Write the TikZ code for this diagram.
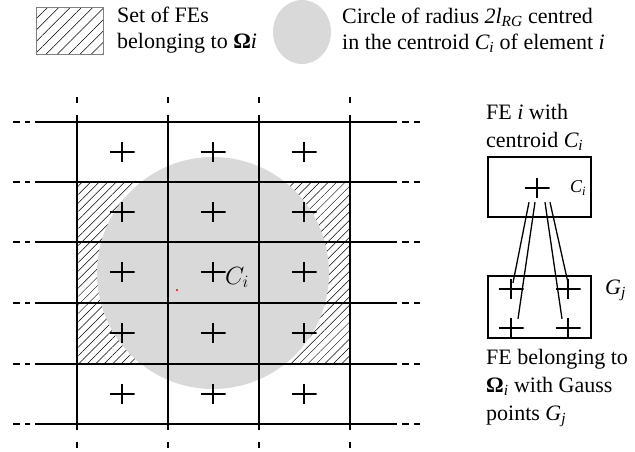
\documentclass[tikz,border=0pt]{standalone}
\usepackage{fontspec}
\setmainfont{Liberation Serif}
\usepackage{tikz}
\usetikzlibrary{patterns.meta,positioning}
\definecolor{discgray}{HTML}{D9D9D9}
\tikzset{
  gridline/.style={line width=1.4pt},
  hatch/.style={pattern={Lines[angle=45,distance=6pt,line width=0.5pt]}},
  gauss/.style={minimum width=25pt, minimum height=20pt, inner sep=0pt,
    path picture={\draw[line width=1.6pt]
      (path picture bounding box.north) -- (path picture bounding box.south)
      (path picture bounding box.west) -- (path picture bounding box.east);}},
  legend/.style={font=\fontsize{22}{26}\selectfont, align=left, inner sep=0pt, anchor=west},
  note/.style={font=\fontsize{22}{28}\selectfont, align=left, inner sep=0pt, anchor=west},
  febox/.style={draw, line width=1.5pt, minimum width=103pt, inner sep=0pt},
  link/.style={line width=1.3pt},
}

\begin{document}
\begin{tikzpicture}[x=1pt,y=-1pt]
\useasboundingbox (0,0) rectangle (635,451);

% legend
\draw[gray, line width=0.6pt, pattern={Lines[angle=45,distance=8pt,line width=0.5pt]}] (36,7) rectangle (103,54);
\node[legend] (setlbl) at (117,30) {Set of FEs\\belonging to \textbf{Ω}\textit{i}};
\fill[discgray] (302,32) ellipse (29 and 32);
\node[legend] (circlbl) at (342,30) {Circle of radius \textit{2l\textsubscript{RG}} centred\\in the centroid \textit{C\textsubscript{i}} of element \textit{i}};

% hatched set and circle of radius 2l_RG
\fill[hatch] (77,182) rectangle (350,364);
\fill[discgray] (213,273) circle (116);
\fill[red] (177,290) circle (1.2);

% mesh
\foreach \y in {122,182,242,303,364,424}
  \draw[gridline] (13,\y) -- (20,\y) (25,\y) -- (30,\y) (35,\y) -- (397,\y)
    (402,\y) -- (409,\y) (414,\y) -- (420,\y);
\foreach \x in {77,168,259,350}
  \draw[gridline] (\x,97) -- (\x,103) (\x,115) -- (\x,430) (\x,442) -- (\x,448);

\foreach \c/\x in {1/122,2/213,3/304}
  \foreach \r/\y in {1/152,2/212,3/272,4/333,5/394}
    \node[gauss] (p\c\r) at (\x,\y) {};
\node[anchor=base west, inner sep=0pt, font=\fontsize{26}{26}\selectfont] (cilbl) at (225,284) {$C_i$};

% FE i and FE of Omega_i
\node[note] (feilbl) at (486,127) {FE \textit{i} with\\centroid \textit{C\textsubscript{i}}};
\node[febox, minimum height=60pt] (fei) at (539.5,187) {};
\node[gauss] (ci) at (537,188) {};
\node[anchor=west, inner sep=0pt, font=\fontsize{18}{18}\selectfont] (cisub) at (570,188) {\textit{C\textsubscript{i}}};

\node[febox, minimum height=62pt] (feo) at (539.5,307) {};
\node[gauss] (g1) at (511,289) {};
\node[gauss] (g2) at (568,289) {};
\node[gauss] (g3) at (511,328) {};
\node[gauss] (g4) at (568,328) {};
\node[anchor=west, inner sep=0pt, font=\fontsize{22}{22}\selectfont] (gjlbl) at (605,290) {\textit{G\textsubscript{j}}};
\node[note] (feolbl) at (486,388) {FE belonging to\\\textbf{Ω}\textsubscript{\textit{i}} with Gauss\\points \textit{G\textsubscript{j}}};

\draw[link] ([xshift=-8pt,yshift=-4pt]ci.south) -- ([xshift=2pt,yshift=-4pt]g1.north);
\draw[link] ([xshift=-2pt,yshift=-4pt]ci.south) -- ([xshift=7pt,yshift=-1pt]g3.north);
\draw[link] ([xshift=8pt,yshift=-4pt]ci.south) -- ([xshift=-6pt,yshift=-1pt]g4.north);
\draw[link] ([xshift=13pt,yshift=-4pt]ci.south) -- ([xshift=0pt,yshift=-4pt]g2.north);
\end{tikzpicture}
\end{document}
